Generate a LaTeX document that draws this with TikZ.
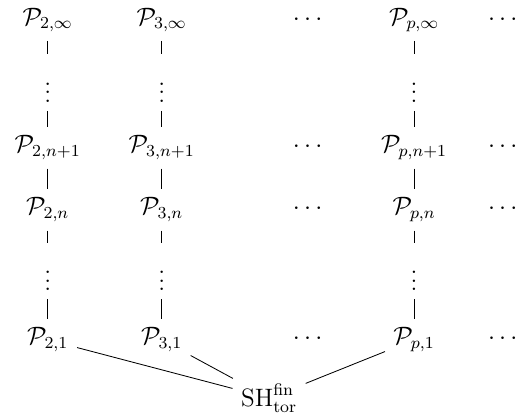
\documentclass[tikz,border=0pt]{standalone}
\usepackage{amsmath,amssymb}
\usetikzlibrary{positioning}

\begin{document}
\begin{tikzpicture}[
    cell/.style={anchor=base, inner sep=2pt, font=\large},
    vdot/.style={cell, text height=18.5pt},
    link/.style={shorten <=2pt, shorten >=2pt}]
\useasboundingbox (0,0) rectangle (8.68,-7.02);
% Towers over the base
\foreach \c/\x in {2/0.80, 3/2.71, p/6.94} {
    \node[cell] (P\c-inf) at (\x,-0.42) {$\mathcal{P}_{\c,\infty}$};
    \node[vdot] (P\c-vt)  at (\x,-1.71) {$\vdots$};
    \node[cell] (P\c-np)  at (\x,-2.56) {$\mathcal{P}_{\c,n+1}$};
    \node[cell] (P\c-n)   at (\x,-3.60) {$\mathcal{P}_{\c,n}$};
    \node[vdot] (P\c-vb)  at (\x,-4.87) {$\vdots$};
    \node[cell] (P\c-one) at (\x,-5.78) {$\mathcal{P}_{\c,1}$};
    \foreach \a/\b in {inf/vt, vt/np, np/n, n/vb, vb/one}
        \draw[link] (P\c-\a) -- (P\c-\b);
}
% Dots between columns
\foreach \y [count=\i] in {-0.42, -2.56, -3.60, -5.78} {
    \node[cell] (dl\i) at (5.19,\y) {$\cdots$};
    \node[cell] (dr\i) at (8.46,\y) {$\cdots$};
}
% Base
\node[inner sep=2pt, font=\large] (SH) at (4.51,-6.67) {$\mathrm{SH}^{\mathrm{fin}}_{\mathrm{tor}}$};
\foreach \c in {2, 3, p}
    \draw[link] (P\c-one) -- (SH);
\end{tikzpicture}
\end{document}
